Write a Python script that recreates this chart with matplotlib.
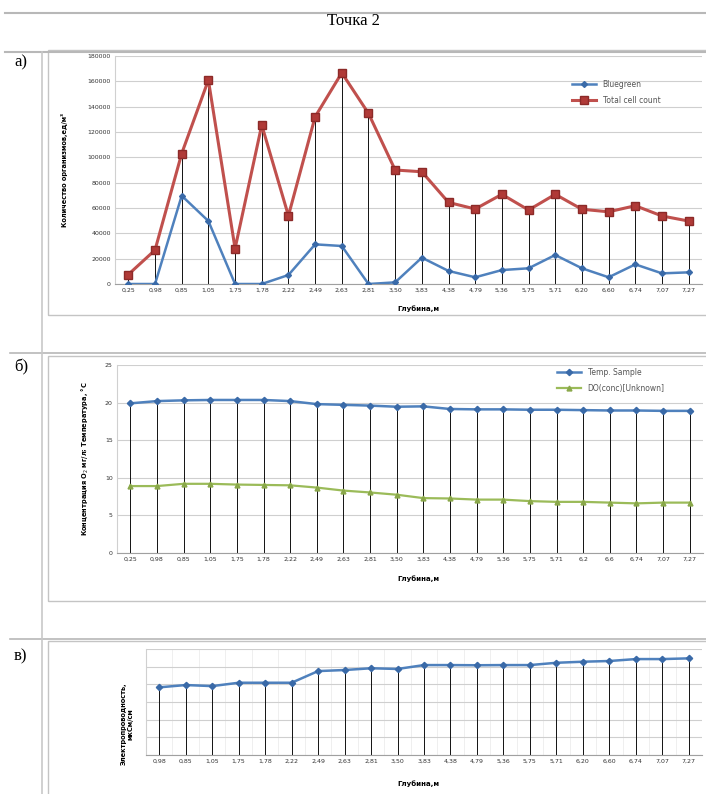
import matplotlib
matplotlib.use("Agg")
import matplotlib.pyplot as plt
from matplotlib.lines import Line2D
from matplotlib.patches import Rectangle
import numpy as np

# ---------------- data ----------------
depth_a = ["0,25", "0,98", "0,85", "1,05", "1,75", "1,78", "2,22", "2,49", "2,63", "2,81", "3,50",
           "3,83", "4,38", "4,79", "5,36", "5,75", "5,71", "6,20", "6,60", "6,74", "7,07", "7,27"]
bluegreen = [0, 0, 69700, 49700, 0, 0, 7100, 31300, 30000, 0, 1300,
             20800, 10300, 5300, 11000, 12400, 22900, 12400, 5300, 15500, 8400, 9200]
total_cells = [7500, 26800, 103000, 161000, 28000, 125500, 53900, 132000, 166700, 134700, 90000,
               88600, 64400, 59200, 70800, 58400, 70800, 59000, 57000, 61800, 53700, 49700]

depth_b = ["0,25", "0,98", "0,85", "1,05", "1,75", "1,78", "2,22", "2,49", "2,63", "2,81", "3,50",
           "3,83", "4,38", "4,79", "5,36", "5,75", "5,71", "6,2", "6,6", "6,74", "7,07", "7,27"]
temp = [19.9, 20.2, 20.3, 20.35, 20.35, 20.35, 20.2, 19.8, 19.7, 19.6, 19.45,
        19.5, 19.15, 19.1, 19.1, 19.05, 19.05, 19.0, 18.95, 18.95, 18.9, 18.9]
do_conc = [8.9, 8.9, 9.2, 9.2, 9.1, 9.05, 9.0, 8.7, 8.3, 8.05, 7.75,
           7.3, 7.25, 7.1, 7.1, 6.9, 6.8, 6.8, 6.7, 6.6, 6.7, 6.7]

depth_c = ["0,98", "0,85", "1,05", "1,75", "1,78", "2,22", "2,49", "2,63", "2,81", "3,50", "3,83",
           "4,38", "4,79", "5,36", "5,75", "5,71", "6,20", "6,60", "6,74", "7,07", "7,27"]
conductivity = [383, 396, 390, 409, 409, 409, 475, 481, 491, 487, 509,
                509, 508, 509, 509, 522, 528, 532, 543, 543, 547]

# ---------------- layout helpers ----------------
W, H = 706, 794
fig = plt.figure(figsize=(W / 100, H / 100), dpi=100)
fig.patch.set_facecolor("white")


def px_axes(x0, y0, x1, y1):
    return fig.add_axes([x0 / W, 1 - y1 / H, (x1 - x0) / W, (y1 - y0) / H])


def hline(y, x0, x1, color="#b8b8b8", lw=1.2):
    fig.add_artist(Line2D([x0 / W, x1 / W], [1 - y / H, 1 - y / H], color=color, lw=lw))


def vline(x, y0, y1, color="#c8c8c8", lw=1.2):
    fig.add_artist(Line2D([x / W, x / W], [1 - y0 / H, 1 - y1 / H], color=color, lw=lw))


def box(x0, y0, x1, y1):
    fig.add_artist(Rectangle((x0 / W, 1 - y1 / H), (x1 - x0) / W, (y1 - y0) / H,
                             fill=False, edgecolor="#c4c4c4", lw=1.0))


# document table lines
hline(13, 5, 706, lw=1.5)
hline(52, 5, 706, lw=1.5)
hline(353, 10, 706, lw=1.2)
hline(639, 10, 706, lw=1.2)
vline(42, 52, 794)

# chart boxes
box(48, 50, 708, 315)
box(48, 356, 708, 601)
box(48, 641, 708, 800)

serif = "Liberation Serif"
fig.text(353 / W, 1 - 21 / H, "Точка 2", family=serif, fontsize=12, ha="center", va="center")
fig.text(14 / W, 1 - 62 / H, "а)", family=serif, fontsize=12, ha="left", va="center")
fig.text(14 / W, 1 - 367 / H, "б)", family=serif, fontsize=12, ha="left", va="center")
fig.text(14 / W, 1 - 656 / H, "в)", family=serif, fontsize=12, ha="left", va="center")

BLUE = "#4F81BD"
RED = "#C0504D"
GREEN = "#9BBB59"
TICK_FS = 4.5


def style_axes(ax, n):
    ax.set_xlim(-0.5, n - 0.5)
    ax.set_xticks(np.arange(n))
    for s in ["top", "right"]:
        ax.spines[s].set_visible(False)
    ax.spines["left"].set_color("#d0d0d0")
    ax.spines["bottom"].set_color("#a0a0a0")
    ax.tick_params(axis="both", length=0, labelsize=TICK_FS, colors="#333333", pad=3)
    ax.grid(axis="y", color="#cfcfcf", lw=0.8)
    ax.set_axisbelow(True)


def drop_lines(ax, top_vals):
    ax.vlines(np.arange(len(top_vals)), 0, top_vals, color="#111111", lw=0.7, zorder=1)


# ---------------- panel a ----------------
ax = px_axes(115, 56, 702, 284)
n = len(depth_a)
x = np.arange(n)
style_axes(ax, n)
ax.set_ylim(0, 180000)
ax.set_yticks(np.arange(0, 180001, 20000))
ax.set_yticklabels([str(v) for v in range(0, 180001, 20000)])
ax.set_xticklabels(depth_a)
drop_lines(ax, np.maximum(bluegreen, total_cells))
ax.plot(x, bluegreen, color=BLUE, lw=1.8, marker="D", ms=3, mfc="#3a6aa8", mec="#3a6aa8",
        label="Bluegreen", zorder=3)
ax.plot(x, total_cells, color=RED, lw=2.2, marker="s", ms=6, mfc="#b03a37", mec="#8c2a28",
        label="Total cell count", zorder=4)
ax.set_ylabel("Количество организмов,ед/м³", fontsize=4.8, fontweight="bold", labelpad=14)
ax.set_xlabel("Глубина,м", fontsize=5, fontweight="bold", labelpad=5)
ax.xaxis.set_label_coords((418 - 115) / (702 - 115), -0.095)
ax.legend(loc="upper left", bbox_to_anchor=((572 - 115) / (702 - 115), (284 - 80) / 228),
          frameon=False, fontsize=5.5, handlelength=3.2, labelspacing=0.9, labelcolor="#555555",
          borderaxespad=0, borderpad=0)

# ---------------- panel b ----------------
ax = px_axes(117, 365, 703, 553)
n = len(depth_b)
x = np.arange(n)
style_axes(ax, n)
ax.set_ylim(0, 25)
ax.set_yticks([0, 5, 10, 15, 20, 25])
ax.set_xticklabels(depth_b)
drop_lines(ax, np.maximum(temp, do_conc))
ax.plot(x, temp, color=BLUE, lw=1.8, marker="D", ms=3.2, mfc="#3a6aa8", mec="#3a6aa8",
        label="Temp. Sample", zorder=3)
ax.plot(x, do_conc, color=GREEN, lw=1.6, marker="^", ms=3.5, mfc="#8aa84a", mec="#8aa84a",
        label="DO(conc)[Unknown]", zorder=3)
ax.set_ylabel("Концентрация O$_2$ мг/л; Температура, °C", fontsize=4.8, fontweight="bold",
              labelpad=10)
ax.set_xlabel("Глубина,м", fontsize=5, fontweight="bold", labelpad=5)
ax.xaxis.set_label_coords((418 - 117) / (703 - 117), -0.12)
ax.legend(loc="upper left", bbox_to_anchor=((557 - 117) / (703 - 117), (553 - 368) / 188),
          frameon=False, fontsize=5.5, handlelength=3.2, labelspacing=0.9, labelcolor="#555555",
          borderaxespad=0, borderpad=0)

# ---------------- panel c ----------------
ax = px_axes(146, 649, 702, 755)
n = len(depth_c)
x = np.arange(n)
style_axes(ax, n)
ax.set_ylim(0, 600)
ax.set_yticks(np.arange(0, 601, 100))
ax.set_yticklabels([])
ax.set_xticks(np.arange(n) + 0.5, minor=True)
ax.grid(axis="x", which="minor", color="#ececec", lw=0.6)
ax.tick_params(axis="x", which="minor", length=0)
ax.set_xticklabels(depth_c)
drop_lines(ax, conductivity)
ax.plot(x, conductivity, color=BLUE, lw=1.8, marker="D", ms=3.2, mfc="#3a6aa8", mec="#3a6aa8",
        zorder=3)
ax.set_ylabel("Электропроводность,\nмкСм/см", fontsize=4.8, fontweight="bold")
ax.yaxis.set_label_coords((134 - 146) / (702 - 146), (755 - 724) / 106)
ax.set_xlabel("Глубина,м", fontsize=5, fontweight="bold", labelpad=5)
ax.xaxis.set_label_coords((418 - 146) / (702 - 146), -0.24)

fig.savefig("out.png", dpi=100, facecolor="white")
